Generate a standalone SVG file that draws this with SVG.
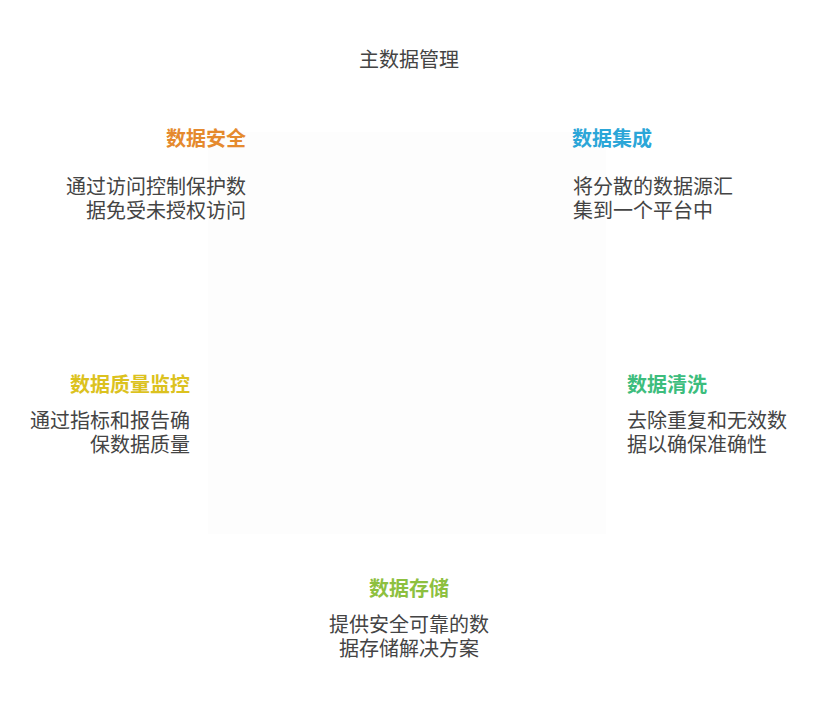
<svg xmlns="http://www.w3.org/2000/svg" width="818" height="710" viewBox="0 0 818 710">
<style>
text{font-family:"Noto Sans CJK SC","Noto Sans",sans-serif;font-size:20px}
.t{font-weight:bold}
.d{fill:#444}
.r{text-anchor:end}
.c{text-anchor:middle}
</style>
<rect width="818" height="710" fill="#ffffff"/>
<rect id="center" x="208" y="132" width="398" height="402" fill="#fdfdfd"/>
<g id="connectors"></g>
<g id="root"><text class="d c" x="409" y="67">主数据管理</text></g>
<g id="security">
<text class="t r" x="246" y="146" fill="#e58a2e">数据安全</text>
<text class="d r"><tspan x="246" y="194">通过访问控制保护数</tspan><tspan x="246" y="218">据免受未授权访问</tspan></text>
</g>
<g id="integration">
<text class="t" x="572" y="146" fill="#2ba6d8">数据集成</text>
<text class="d"><tspan x="573" y="194">将分散的数据源汇</tspan><tspan x="573" y="218">集到一个平台中</tspan></text>
</g>
<g id="quality">
<text class="t r" x="190" y="392" fill="#dcc21e">数据质量监控</text>
<text class="d r"><tspan x="190" y="428">通过指标和报告确</tspan><tspan x="190" y="452">保数据质量</tspan></text>
</g>
<g id="cleansing">
<text class="t" x="627" y="392" fill="#3dbd7d">数据清洗</text>
<text class="d"><tspan x="627" y="428">去除重复和无效数</tspan><tspan x="627" y="452">据以确保准确性</tspan></text>
</g>
<g id="storage">
<text class="t c" x="409" y="596" fill="#8dc03f">数据存储</text>
<text class="d c"><tspan x="409" y="632">提供安全可靠的数</tspan><tspan x="409" y="656">据存储解决方案</tspan></text>
</g>
</svg>
